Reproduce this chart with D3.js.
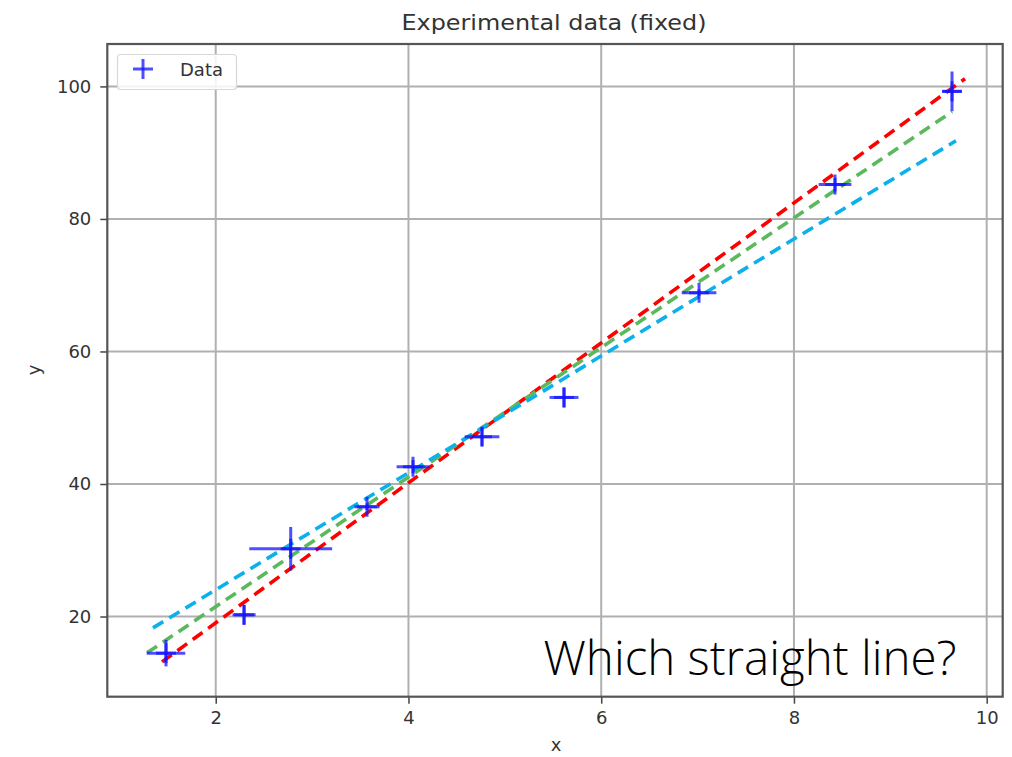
<!DOCTYPE html>
<html>
<head>
<meta charset="utf-8">
<script src="https://cdn.jsdelivr.net/npm/d3@7"></script>
<style>
  html, body { margin: 0; padding: 0; background: #ffffff; }
  svg { display: block; }
</style>
</head>
<body>
<svg id="chart" width="1012" height="757"></svg>
<script>
// ---- data ----
const xVals = [1.484, 2.294, 2.778, 3.57, 4.047, 4.763, 5.614, 7.015, 8.426, 9.64];
const yVals = [14.47, 20.26, 30.22, 36.56, 42.6, 47.13, 53.06, 68.86, 85.19, 99.25];
const xErr  = [0.20, 0.12, 0.43, 0.13, 0.17, 0.18, 0.15, 0.18, 0.17, 0.10];
const yErr  = [2.0, 1.5, 3.3, 0.5, 1.0, 1.4, 1.5, 0.5, 1.0, 3.0];

// three candidate straight lines (red, green, blue) as start/end points
const fitNames = ["fit A", "fit B", "fit C"];
const fitX0 = [1.443, 1.287, 1.349];
const fitY0 = [13.16, 14.52, 18.29];
const fitX1 = [9.775, 9.64, 9.681];
const fitY1 = [101.16, 96.18, 91.80];

const xTicks = [2, 4, 6, 8, 10];
const yTicks = [20, 40, 60, 80, 100];
const xDomain = [0.875, 10.166];
const yDomain = [7.9, 106.4];

const titleText = "Experimental data (fixed)";
const xLabel = "x";
const yLabel = "y";
const legendLabel = "Data";
const caption = "Which straight line?";

// ---- layout ----
const L = 107.3, R = 1002.7, T = 44, B = 696.7;
const svg = d3.select("#chart");
const x = d3.scaleLinear().domain(xDomain).range([L, R]);
const y = d3.scaleLinear().domain(yDomain).range([B, T]);

const fitColors = ["#ff0000", "#5cb85c", "#0cb0ea"];
const markerColor = "rgba(20,20,255,0.75)";
const font = "'DejaVu Sans', sans-serif";

// grid
const grid = svg.append("g");
grid.selectAll("line.gx").data(xTicks).enter().append("line")
  .attr("x1", d => x(d)).attr("x2", d => x(d)).attr("y1", T).attr("y2", B)
  .attr("stroke", "#b0b0b0").attr("stroke-width", 2);
grid.selectAll("line.gy").data(yTicks).enter().append("line")
  .attr("x1", L).attr("x2", R).attr("y1", d => y(d)).attr("y2", d => y(d))
  .attr("stroke", "#b0b0b0").attr("stroke-width", 2);

// axes
const xAxis = svg.append("g").attr("transform", `translate(0,${B})`)
  .call(d3.axisBottom(x).tickValues(xTicks).tickSize(7).tickPadding(8).tickSizeOuter(0).tickFormat(d3.format("d")));
const yAxis = svg.append("g").attr("transform", `translate(${L},0)`)
  .call(d3.axisLeft(y).tickValues(yTicks).tickSize(7).tickPadding(9).tickSizeOuter(0).tickFormat(d3.format("d")));
[xAxis, yAxis].forEach(a => {
  a.select(".domain").remove();
  a.selectAll(".tick line").attr("stroke", "#444").attr("stroke-width", 1.5);
  a.selectAll(".tick text").attr("fill", "#333").attr("font-family", font).attr("font-size", 18);
});

// frame
svg.append("rect").attr("x", L).attr("y", T).attr("width", R - L).attr("height", B - T)
  .attr("fill", "none").attr("stroke", "#555").attr("stroke-width", 2.2);

// fit lines
const fits = fitNames.map((n, i) => ({ name: n, i, x0: fitX0[i], y0: fitY0[i], x1: fitX1[i], y1: fitY1[i] }));
svg.append("g").selectAll("line").data(fits).enter().append("line")
  .attr("x1", d => x(d.x0)).attr("y1", d => y(d.y0))
  .attr("x2", d => x(d.x1)).attr("y2", d => y(d.y1))
  .attr("stroke", d => fitColors[d.i]).attr("stroke-width", 3.6)
  .attr("stroke-dasharray", "12 7");

// data with error bars and + markers
const pts = xVals.map((v, i) => ({ x: v, y: yVals[i], xe: xErr[i], ye: yErr[i] }));
const pg = svg.append("g").attr("stroke", markerColor).attr("stroke-width", 3).attr("fill", "none");
const ms = 10;
pts.forEach(p => {
  pg.append("line").attr("x1", x(p.x - p.xe)).attr("x2", x(p.x + p.xe)).attr("y1", y(p.y)).attr("y2", y(p.y));
  pg.append("line").attr("x1", x(p.x)).attr("x2", x(p.x)).attr("y1", y(p.y - p.ye)).attr("y2", y(p.y + p.ye));
  pg.append("line").attr("x1", x(p.x) - ms).attr("x2", x(p.x) + ms).attr("y1", y(p.y)).attr("y2", y(p.y));
  pg.append("line").attr("x1", x(p.x)).attr("x2", x(p.x)).attr("y1", y(p.y) - ms).attr("y2", y(p.y) + ms);
});

// legend
const lg = svg.append("g");
lg.append("rect").attr("x", 117.5).attr("y", 54.5).attr("width", 119).attr("height", 35).attr("rx", 3)
  .attr("fill", "rgba(255,255,255,0.85)").attr("stroke", "#d8d8d8").attr("stroke-width", 1.2);
lg.append("line").attr("x1", 133).attr("x2", 153).attr("y1", 69).attr("y2", 69).attr("stroke", markerColor).attr("stroke-width", 3);
lg.append("line").attr("x1", 143).attr("x2", 143).attr("y1", 59).attr("y2", 79).attr("stroke", markerColor).attr("stroke-width", 3);
lg.append("text").attr("x", 180).attr("y", 75.5).text(legendLabel)
  .attr("font-family", font).attr("font-size", 18).attr("fill", "#333");

// title and labels
svg.append("text").attr("x", 554).attr("y", 30).attr("text-anchor", "middle")
  .attr("font-family", font).attr("font-size", 21).attr("fill", "#333")
  .attr("textLength", 305).attr("lengthAdjust", "spacingAndGlyphs").text(titleText);
svg.append("text").attr("x", 556).attr("y", 751).attr("text-anchor", "middle")
  .attr("font-family", font).attr("font-size", 18).attr("fill", "#333").text(xLabel);
svg.append("text").attr("transform", "translate(40,370) rotate(-90)").attr("text-anchor", "middle")
  .attr("font-family", font).attr("font-size", 18).attr("fill", "#333").text(yLabel);

// caption
svg.append("text").attr("x", 543.5).attr("y", 675).attr("font-family", "'Open Sans', sans-serif")
  .attr("font-weight", 300).attr("font-size", 48).attr("fill", "#000")
  .attr("textLength", 413).attr("lengthAdjust", "spacingAndGlyphs").text(caption);
</script>
</body>
</html>
